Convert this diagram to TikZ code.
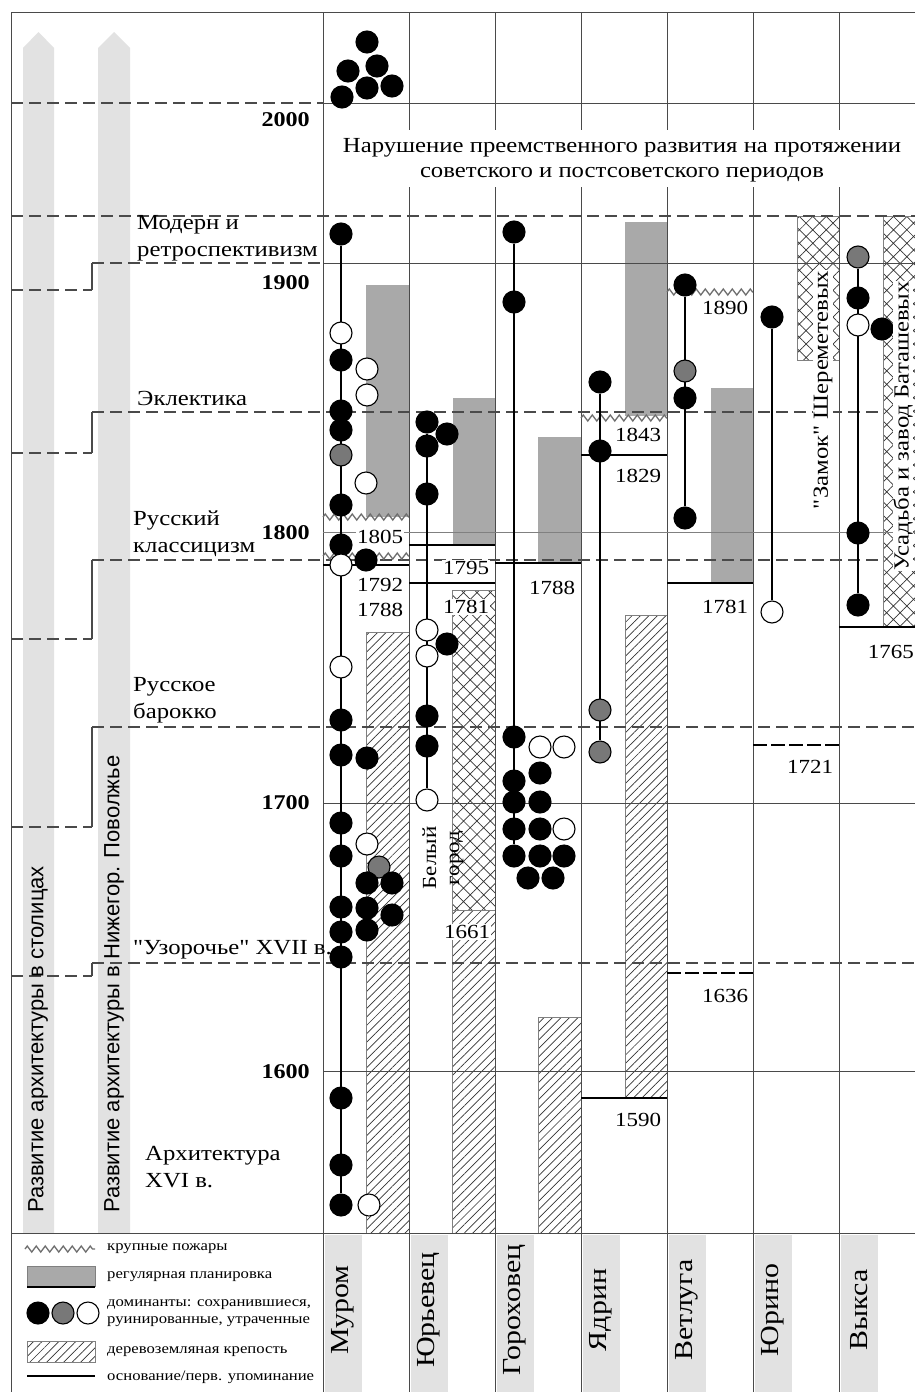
\documentclass[tikz,border=0pt]{standalone}
\usepackage{fontspec}
\setmainfont[FakeStretch=1.15,Ligatures=TeXOff]{Liberation Serif}
\newfontfamily\sansf{Liberation Sans}
\usetikzlibrary{patterns.meta,decorations.pathmorphing}
\pgfdeclarelayer{back}
\pgfdeclarelayer{mid}
\pgfsetlayers{back,mid,main}
\definecolor{plan}{HTML}{A9A9A9}
\definecolor{strip}{HTML}{E2E2E2}
\definecolor{ruin}{HTML}{787878}
\definecolor{gridc}{HTML}{4A4A4A}
\definecolor{firec}{HTML}{6E6E6E}
\tikzset{
  dot/.style={circle,draw=black,line width=1.1pt,minimum size=22pt,inner sep=0pt},
  blk/.style={dot,fill=black},
  gry/.style={dot,fill=ruin},
  wht/.style={dot,fill=white},
  planbar/.style={fill=plan,draw=none},
  hatchbox/.style={draw=gray,line width=0.6pt,pattern={Lines[angle=45,distance=6pt,line width=0.7pt]},pattern color=black!80},
  crossbox/.style={draw=gray,line width=0.6pt,pattern={Hatch[angle=45,distance=9.5pt,line width=0.7pt]},pattern color=black!80},
  fire/.style={draw=firec,line width=1.3pt,decorate,decoration={zigzag,segment length=9pt,amplitude=3pt}},
  found/.style={line width=2.6pt},
  founddash/.style={line width=2.6pt,dash pattern=on 14pt off 4pt},
  period/.style={draw=gridc,line width=1.3pt,dash pattern=on 12pt off 6pt},
  gridline/.style={draw=gridc,line width=0.9pt},
  conn/.style={line width=1.2pt},
  yr/.style={font=\fontsize{20}{22}\selectfont,inner sep=1pt,fill=white},
  cent/.style={font=\fontsize{21}{23}\selectfont\bfseries,anchor=east,inner sep=0pt},
  per/.style={font=\fontsize{21.5}{27}\selectfont,align=left,anchor=west,inner sep=0pt},
  city/.style={font=\fontsize{26}{28}\selectfont,rotate=90,inner sep=0pt},
  leg/.style={font=\fontsize{14.5}{16}\selectfont,anchor=west,inner sep=0pt},
  lefttxt/.style={font=\sansf\fontsize{22}{24}\selectfont,rotate=90,anchor=west,inner sep=0pt},
  vtxt/.style={font=\fontsize{21.5}{23}\selectfont,rotate=90,fill=white,inner sep=0.5pt},
}
\begin{document}
\begin{tikzpicture}[x=1pt,y=-1pt]
\useasboundingbox (0,0) rectangle (915,1392);
\begin{pgfonlayer}{back}
\fill[white] (0,0) rectangle (915,1392);
% left gray arrows
\fill[strip] (23,1233) -- (23,48) -- (38.5,32) -- (54,48) -- (54,1233) -- cycle;
\fill[strip] (98,1233) -- (98,48) -- (114,32) -- (130,48) -- (130,1233) -- cycle;
% city strips
\foreach \L in {323,409,495,581,667,753,839} \fill[strip] (\L+2,1235) rectangle (\L+39,1392);
% planning bars
\fill[planbar] (366,285) rectangle (409,517);
\fill[planbar] (453,398) rectangle (495,545);
\fill[planbar] (538,437) rectangle (581,563);
\fill[planbar] (625,222) rectangle (667,416);
\fill[planbar] (711,388) rectangle (753,583);
% fortresses
\path[hatchbox] (366,632) rectangle (409,1233);
\path[hatchbox] (452,910) rectangle (495,1233);
\path[hatchbox] (538,1017) rectangle (581,1233);
\path[hatchbox] (625,615) rectangle (667,1098);
\path[crossbox] (452,590) rectangle (495,910);
\path[crossbox] (797,216) rectangle (839,360);
\path[crossbox] (883,216) rectangle (918,627);
% frame and grid
\draw[gridline] (11,1392) -- (11,12) -- (915,12);
\draw[gridline] (323,12) -- (323,1392);
\foreach \X in {409,495,581,667,753,839} {
  \draw[gridline] (\X,12) -- (\X,130);
  \draw[gridline] (\X,187) -- (\X,1392);
}
\foreach \Y in {103,263,803,1071} \draw[gridline] (323,\Y) -- (915,\Y);
\draw[draw=gray,line width=0.7pt] (323,532) -- (915,532);
\draw[gridline] (11,1233) -- (915,1233);
% period boundaries
\draw[period] (11,103) -- (323,103);
\draw[period] (11,216) -- (915,216);
\draw[period] (11,290) -- (92,290);
\draw[gridline,line width=1.2pt] (92,290) -- (92,263);
\draw[period] (92,263) -- (323,263);
\draw[period] (11,453) -- (92,453);
\draw[gridline,line width=1.2pt] (92,453) -- (92,412);
\draw[period] (92,412) -- (883,412);
\draw[period] (11,639) -- (92,639);
\draw[gridline,line width=1.2pt] (92,639) -- (92,560);
\draw[period] (92,560) -- (883,560);
\draw[period] (11,827) -- (92,827);
\draw[gridline,line width=1.2pt] (92,827) -- (92,727);
\draw[period] (92,727) -- (915,727);
\draw[period] (11,976) -- (92,976);
\draw[gridline,line width=1.2pt] (92,976) -- (92,963);
\draw[period] (92,963) -- (915,963);
% fires
\draw[fire] (323,517) -- (409,517);
\draw[fire] (323,556) -- (409,556);
\draw[fire] (581,418) -- (667,418);
\draw[fire] (667,292) -- (753,292);
% founding lines
\draw[found] (323,565) -- (409,565);
\draw[found] (409,545) -- (495,545);
\draw[found] (409,583) -- (495,583);
\draw[found] (495,563) -- (581,563);
\draw[found] (581,455) -- (667,455);
\draw[found] (581,1098) -- (667,1098);
\draw[found] (667,583) -- (753,583);
\draw[found] (839,627) -- (915,627);
\draw[founddash] (667,973) -- (753,973);
\draw[founddash] (753,745) -- (839,745);
% legend graphics
\draw[fire] (25,1249) -- (95,1249);
\fill[plan] (27,1266) rectangle (95,1287);
\draw[gray,line width=0.6pt] (27,1287) -- (27,1266) -- (95,1266) -- (95,1287);
\draw[found] (27,1287) -- (95,1287);
\path[hatchbox] (27,1341) rectangle (95,1362);
\draw[found] (27,1376) -- (95,1376);
\end{pgfonlayer}

% top cluster
\node[blk] (tc1) at (367,42) {};
\node[blk] (tc2) at (348,71) {};
\node[blk] (tc3) at (377,66) {};
\node[blk] (tc4) at (342,97) {};
\node[blk] (tc5) at (367,88) {};
\node[blk] (tc6) at (392,86) {};

% Murom main
\node[blk] (mu1) at (341,234) {};
\node[wht] (mu2) at (341,333) {};
\node[blk] (mu3) at (341,360) {};
\node[blk] (mu4) at (341,411) {};
\node[blk] (mu5) at (341,430) {};
\node[gry] (mu6) at (341,455) {};
\node[blk] (mu7) at (341,505) {};
\node[blk] (mu8) at (341,545) {};
\node[wht] (mu9) at (341,565) {};
\node[wht] (mu10) at (341,667) {};
\node[blk] (mu11) at (341,720) {};
\node[blk] (mu12) at (341,755) {};
\node[blk] (mu13) at (341,823) {};
\node[blk] (mu14) at (341,856) {};
\node[blk] (mu15) at (341,907) {};
\node[blk] (mu16) at (341,932) {};
\node[blk] (mu17) at (341,957) {};
\node[blk] (mu18) at (341,1098) {};
\node[blk] (mu19) at (341,1165) {};
\node[blk] (mu20) at (341,1205) {};
% Murom side
\node[wht] (ms1) at (367,369) {};
\node[wht] (ms2) at (367,395) {};
\node[wht] (ms3) at (366,483) {};
\node[blk] (ms4) at (366,560) {};
\node[blk] (ms5) at (367,758) {};
\node[wht] (ms6) at (367,844) {};
\node[gry] (ms7) at (379,867) {};
\node[blk] (ms8) at (367,883) {};
\node[blk] (ms9) at (392,883) {};
\node[blk] (ms10) at (367,908) {};
\node[blk] (ms11) at (392,915) {};
\node[blk] (ms12) at (367,930) {};
\node[wht] (ms13) at (369,1205) {};

% Yurievets
\node[blk] (yu1) at (427,422) {};
\node[blk] (ys1) at (447,434) {};
\node[blk] (yu2) at (427,446) {};
\node[blk] (yu3) at (427,494) {};
\node[wht] (yu4) at (427,630) {};
\node[wht] (yu5) at (427,656) {};
\node[blk] (ys2) at (447,644) {};
\node[blk] (yu6) at (427,716) {};
\node[blk] (yu7) at (427,746) {};
\node[wht] (yu8) at (427,800) {};

% Gorokhovets
\node[blk] (go1) at (514,232) {};
\node[blk] (go2) at (514,302) {};
\node[blk] (go3) at (514,737) {};
\node[wht] (gs1) at (540,747) {};
\node[wht] (gs2) at (564,747) {};
\node[blk] (gs3) at (540,773) {};
\node[blk] (go4) at (514,781) {};
\node[blk] (go5) at (514,802) {};
\node[blk] (gs4) at (540,802) {};
\node[blk] (go6) at (514,829) {};
\node[blk] (gs5) at (540,829) {};
\node[wht] (gs6) at (564,829) {};
\node[blk] (go7) at (514,856) {};
\node[blk] (gs7) at (540,856) {};
\node[blk] (gs8) at (564,856) {};
\node[blk] (gs9) at (528,878) {};
\node[blk] (gs10) at (553,878) {};

% Yadrin
\node[blk] (ya1) at (600,382) {};
\node[blk] (ya2) at (600,451) {};
\node[gry] (ya3) at (600,710) {};
\node[gry] (ya4) at (600,752) {};

% Vetluga
\node[blk] (ve1) at (685,285) {};
\node[gry] (ve2) at (685,371) {};
\node[blk] (ve3) at (685,398) {};
\node[blk] (ve4) at (685,518) {};

% Yurino
\node[blk] (ur1) at (772,317) {};
\node[wht] (ur2) at (772,612) {};

% Vyksa
\node[gry] (vy1) at (858,257) {};
\node[blk] (vy2) at (858,298) {};
\node[wht] (vy3) at (858,325) {};
\node[blk] (vs1) at (882,329) {};
\node[blk] (vy4) at (858,533) {};
\node[blk] (vy5) at (858,605) {};

% legend dots
\node[blk] (lg1) at (38,1313) {};
\node[gry] (lg2) at (63,1313) {};
\node[wht] (lg3) at (88,1313) {};

% connectors
\begin{pgfonlayer}{mid}
\draw[conn] (mu1) -- (mu20);
\draw[conn] (yu1) -- (yu8);
\draw[conn] (go1) -- (go7);
\draw[conn] (ya1) -- (ya4);
\draw[conn] (ve1) -- (ve4);
\draw[conn] (ur1) -- (ur2);
\draw[conn] (vy1) -- (vy5);
\end{pgfonlayer}

% century labels
\node[cent] (c2000) at (310,120) {2000};
\node[cent] (c1900) at (310,283) {1900};
\node[cent] (c1800) at (310,533) {1800};
\node[cent] (c1700) at (310,803) {1700};
\node[cent] (c1600) at (310,1072) {1600};

% period labels
\node[per] (p1) at (137,238) {Модерн и\\ретроспективизм};
\node[per] (p2) at (137,398) {Эклектика};
\node[per] (p3) at (133,534) {Русский\\классицизм};
\node[per] (p4) at (133,700) {Русское\\барокко};
\node[per] (p5) at (133,950) {"Узорочье" XVII в.};
\node[per] (p6) at (145,1167) {Архитектура\\XVI в.};

% top text
\node[font=\fontsize{21.5}{25}\selectfont,align=center,inner sep=0pt] (top) at (622,160)
  {Нарушение преемственного развития на протяжении\\советского и постсоветского периодов};

% left vertical texts
\node[lefttxt] (l1) at (38,1213) {Развитие архитектуры в столицах};
\node[lefttxt] (l2) at (114,1213) {Развитие архитектуры в Нижегор. Поволжье};

% year labels
\node[yr] (y1805) at (380,537) {1805};
\node[yr] (y1792) at (380,585) {1792};
\node[yr] (y1788a) at (380,610) {1788};
\node[yr] (y1795) at (466,568) {1795};
\node[yr] (y1781a) at (466,607) {1781};
\node[yr] (y1661) at (467,932) {1661};
\node[yr] (y1788b) at (552,588) {1788};
\node[yr] (y1843) at (638,435) {1843};
\node[yr] (y1829) at (638,476) {1829};
\node[yr] (y1590) at (638,1120) {1590};
\node[yr] (y1890) at (725,308) {1890};
\node[yr] (y1781b) at (725,607) {1781};
\node[yr] (y1636) at (725,996) {1636};
\node[yr] (y1721) at (810,767) {1721};
\node[yr,anchor=east] (y1765) at (915,652) {1765};

% vertical object labels
\node[font=\fontsize{20}{23}\selectfont,rotate=90,align=center,inner sep=0pt] (bg) at (443,858) {Белый\\город};
\node[vtxt] (zam) at (823,390) {"Замок" Шереметевых};
\node[vtxt] (usa) at (903,426) {Усадьба и завод Баташевых};

% city names
\node[city] (cMur) at (343,1310) {Муром};
\node[city] (cYur) at (429,1310) {Юрьевец};
\node[city] (cGor) at (515,1310) {Гороховец};
\node[city] (cYad) at (601,1310) {Ядрин};
\node[city] (cVet) at (687,1310) {Ветлуга};
\node[city] (cYurino) at (773,1310) {Юрино};
\node[city] (cVyk) at (859,1310) {Выкса};

% legend texts
\node[leg] (t1) at (107,1249) {крупные пожары};
\node[leg] (t2) at (107,1277) {регулярная планировка};
\node[leg] (t3) at (107,1305) {доминанты: сохранившиеся,};
\node[leg] (t4) at (107,1322) {руинированные, утраченные};
\node[leg] (t5) at (107,1352) {деревоземляная крепость};
\node[leg] (t6) at (107,1377) {основание/перв. упоминание};
\end{tikzpicture}
\end{document}
